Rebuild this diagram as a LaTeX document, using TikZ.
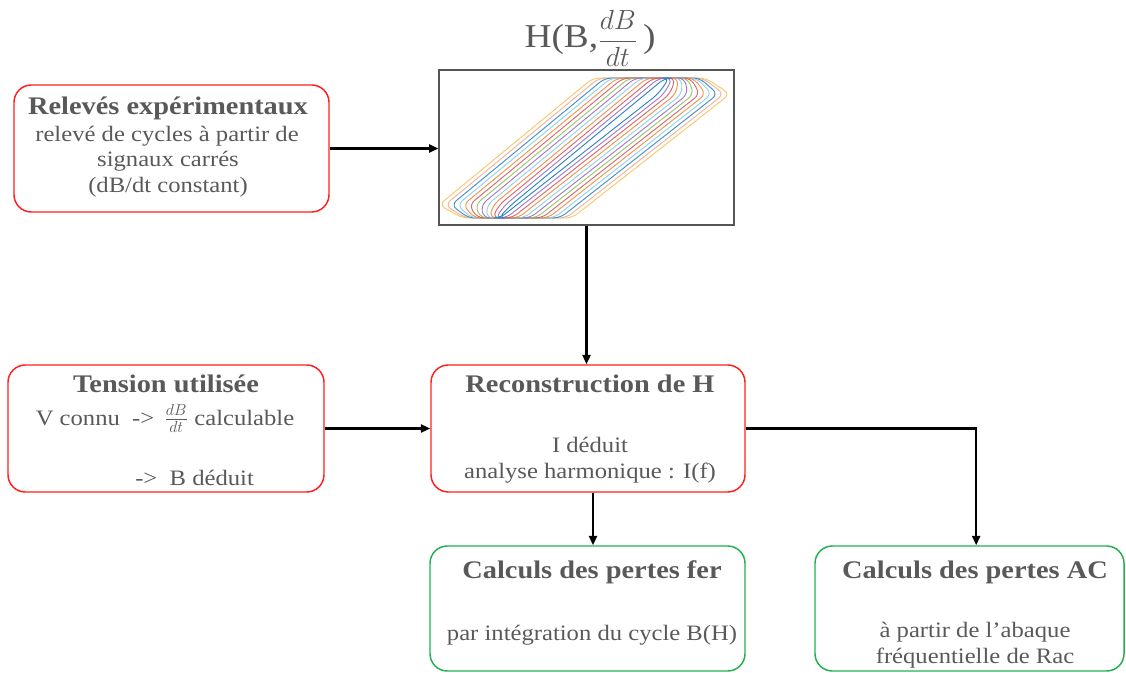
\documentclass[tikz,border=0pt]{standalone}
\usepackage{fontspec}
\setmainfont[FakeStretch=1.12]{Liberation Serif}
\usetikzlibrary{arrows.meta,fit}
\definecolor{txt}{HTML}{595959}
\definecolor{bred}{HTML}{FF1F1F}
\definecolor{bgreen}{HTML}{22B04E}
\definecolor{frame}{HTML}{555555}
\definecolor{cY}{HTML}{F7C25A}
\definecolor{cS}{HTML}{F3A88E}
\definecolor{cB}{HTML}{2A86C8}
\definecolor{cL}{HTML}{86CBEA}
\definecolor{cO}{HTML}{F0883A}
\definecolor{cR}{HTML}{D8575A}
\definecolor{cG}{HTML}{8DC05E}
\definecolor{cP}{HTML}{9A6CC0}
\begin{document}
\begin{tikzpicture}[x=0.75pt,y=-0.75pt,
  redbox/.style={draw=bred,line width=1.1pt,rounded corners=13pt,inner sep=0pt},
  greenbox/.style={draw=bgreen,line width=1.1pt,rounded corners=13pt,inner sep=0pt},
  imgbox/.style={draw=frame,line width=0.9pt,inner sep=0pt},
  ttl/.style={anchor=base,text=txt,font=\fontsize{19}{22}\selectfont\bfseries,inner sep=0pt},
  body/.style={anchor=base,text=txt,font=\fontsize{16.5}{19}\selectfont,inner sep=0pt},
  arr/.style={-{Triangle[length=7pt,width=6pt]},line width=1.6pt,black},
  loop/.style={line width=0.7pt,rounded corners=5pt}]
\useasboundingbox (0,0) rectangle (1126,673);

% boxes
\node[redbox,fit={(14,85) (329,212)}] (rel) {};
\node[redbox,fit={(8,365) (324,492)}] (ten) {};
\node[redbox,fit={(431,365) (745,492)}] (rec) {};
\node[greenbox,fit={(430,546) (745,671)}] (fer) {};
\node[greenbox,fit={(815,546) (1124,671)}] (ac) {};
\node[imgbox,fit={(439,70) (734,225)}] (img) {};

% hysteresis loops
\foreach \d/\c/\o in {75/cY/0.9,69/cS/0.9,63/cB/0.9,57/cL/0.9,51/cO/0.9,45/cR/0.9,39/cG/0.9,33/cP/0.9,27/cL/0.9,21/cO/0.9,15/cR/0.9,9/cP/0.9,3/cB/1}{
  \draw[loop,draw=\c,draw opacity=\o] (514-\d,205) -- (668-\d,78) -- (668+0.5*\d,78) -- (655+\d,94) -- (497+\d,218) -- (500-0.5*\d,218) -- cycle;
}

% title of plot
\node[anchor=base,text=txt,inner sep=0pt,font=\fontsize{25}{28}\selectfont] (htitle) at (590,48) {H(B,{\fontsize{20}{22}\selectfont$\displaystyle\frac{dB}{dt}$}\,)};

% texts
\node[ttl] (relT) at (168,115) {Relevés expérimentaux};
\node[body] (rel1) at (167,142) {relevé de cycles à partir de};
\node[body] (rel2) at (168,167) {signaux carrés};
\node[body] (rel3) at (168,193) {(dB/dt constant)};

\node[ttl] (tenT) at (166,392) {Tension utilisée};
\node[body] (ten1) at (165,425) {V connu \ -> \,$\frac{dB}{dt}$ calculable};
\node[body,anchor=base west] (ten2) at (135,485) {->\ \ B déduit};

\node[ttl] (recT) at (590,392) {Reconstruction de H};
\node[body] (rec1) at (590,452) {I déduit};
\node[body] (rec2) at (590,478) {analyse harmonique : I(f)};

\node[ttl] (ferT) at (592,578) {Calculs des pertes fer};
\node[body] (fer1) at (592,640) {par intégration du cycle B(H)};

\node[ttl] (acT) at (975,578) {Calculs des pertes AC};
\node[body] (ac1) at (975,637) {à partir de l’abaque};
\node[body] (ac2) at (975,663) {fréquentielle de Rac};

% connectors
\draw[arr] (rel.east) -- (rel.east -| img.west);
\draw[arr] (img.south) -- (img.south |- rec.north);
\draw[arr] (ten.east) -- (ten.east -| rec.west);
\draw[arr] ([xshift=3.75pt]rec.south) -- ([xshift=3.75pt]rec.south |- fer.north);
\draw[arr] (rec.east) -| ([xshift=5pt]ac.north);
\end{tikzpicture}
\end{document}
